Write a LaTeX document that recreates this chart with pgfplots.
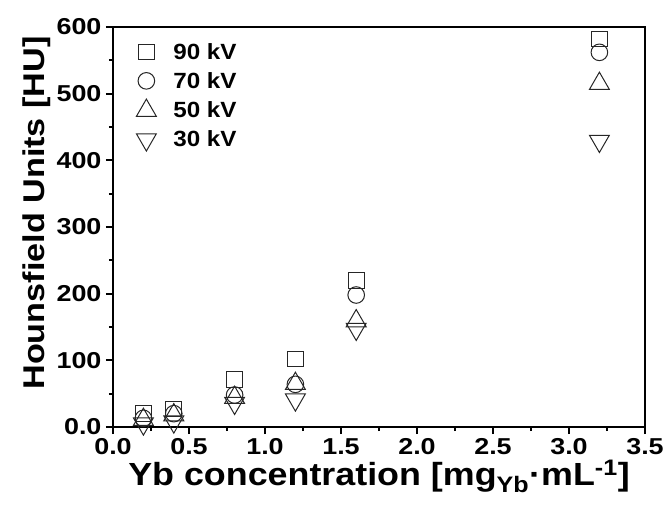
\documentclass[border=0pt]{standalone}
\usepackage{pgfplots}
\pgfplotsset{compat=1.18}
\usepackage{fontspec}
\setmainfont{Liberation Sans}
\newfontfamily\tickfont[FakeStretch=1.17]{Liberation Sans}
\newfontfamily\ylabfont[FakeStretch=1.14]{Liberation Sans}
\newfontfamily\xlabfont[FakeStretch=1.12]{Liberation Sans}
\newfontfamily\legfont[FakeStretch=1.1]{Liberation Sans}
\begin{document}
\begin{tikzpicture}
\useasboundingbox (-113pt,-79pt) rectangle (553pt,427pt);
\begin{axis}[
  at={(0pt,0pt)}, anchor=south west,
  scale only axis, width=532pt, height=400pt,
  xmin=0, xmax=3.5, ymin=0, ymax=600,
  clip=false,
  axis line style={line width=2.2pt},
  tick pos=left, tick align=outside,
  xtick={0,0.5,1,1.5,2,2.5,3,3.5},
  xticklabels={0.0,0.5,1.0,1.5,2.0,2.5,3.0,3.5},
  ytick={0,100,200,300,400,500,600},
  yticklabels={0.0,100,200,300,400,500,600},
  minor x tick num=1, minor y tick num=1,
  major tick length=7pt, minor tick length=4pt,
  every tick/.style={line width=1.8pt, black},
  ticklabel style={font=\fontsize{23}{23}\selectfont\tickfont\bfseries},
  xticklabel style={yshift=-1pt},
  yticklabel style={xshift=-1pt},
  xlabel={Yb concentration [mg\textsubscript{Yb}·mL\textsuperscript{-1}]},
  ylabel={Hounsfield Units [HU]},
  xlabel style={font=\fontsize{32}{32}\selectfont\xlabfont\bfseries, at={(axis description cs:0.5,-0.145)}, anchor=base},
  ylabel style={font=\fontsize{30}{30}\selectfont\ylabfont\bfseries, at={(axis description cs:-0.143,0.535)}, anchor=center},
  legend style={at={(axis description cs:0.038,0.97)}, anchor=north west,
    draw=none, fill=none, font=\fontsize{22}{22}\selectfont\legfont\bfseries,
    row sep=7.5pt, /tikz/every odd column/.append style={column sep=15pt}},
  legend cell align=left,
]
\addplot[only marks, mark=square, mark size=7.8pt, mark options={draw=black!85, fill=none, line width=1pt}]
  coordinates {(0.2,20) (0.4,27) (0.8,71) (1.2,102) (1.6,220) (3.2,582)};
\addplot[only marks, mark=o, mark size=8.3pt, mark options={draw=black!85, fill=none, line width=1pt}]
  coordinates {(0.2,13) (0.4,20) (0.8,48) (1.2,64) (1.6,198) (3.2,562)};
\addplot[only marks, mark=triangle, mark size=11.5pt, mark options={draw=black!85, fill=none, line width=1pt}]
  coordinates {(0.2,11) (0.4,18) (0.8,44) (1.2,65) (1.6,159) (3.2,515)};
\addplot[only marks, mark=triangle, mark size=11.5pt, mark options={draw=black!85, fill=none, line width=1pt, rotate=180}]
  coordinates {(0.2,5) (0.4,8) (0.8,36) (1.2,41) (1.6,147) (3.2,429)};
\legend{90 kV, 70 kV, 50 kV, 30 kV}
\end{axis}
\end{tikzpicture}
\end{document}
